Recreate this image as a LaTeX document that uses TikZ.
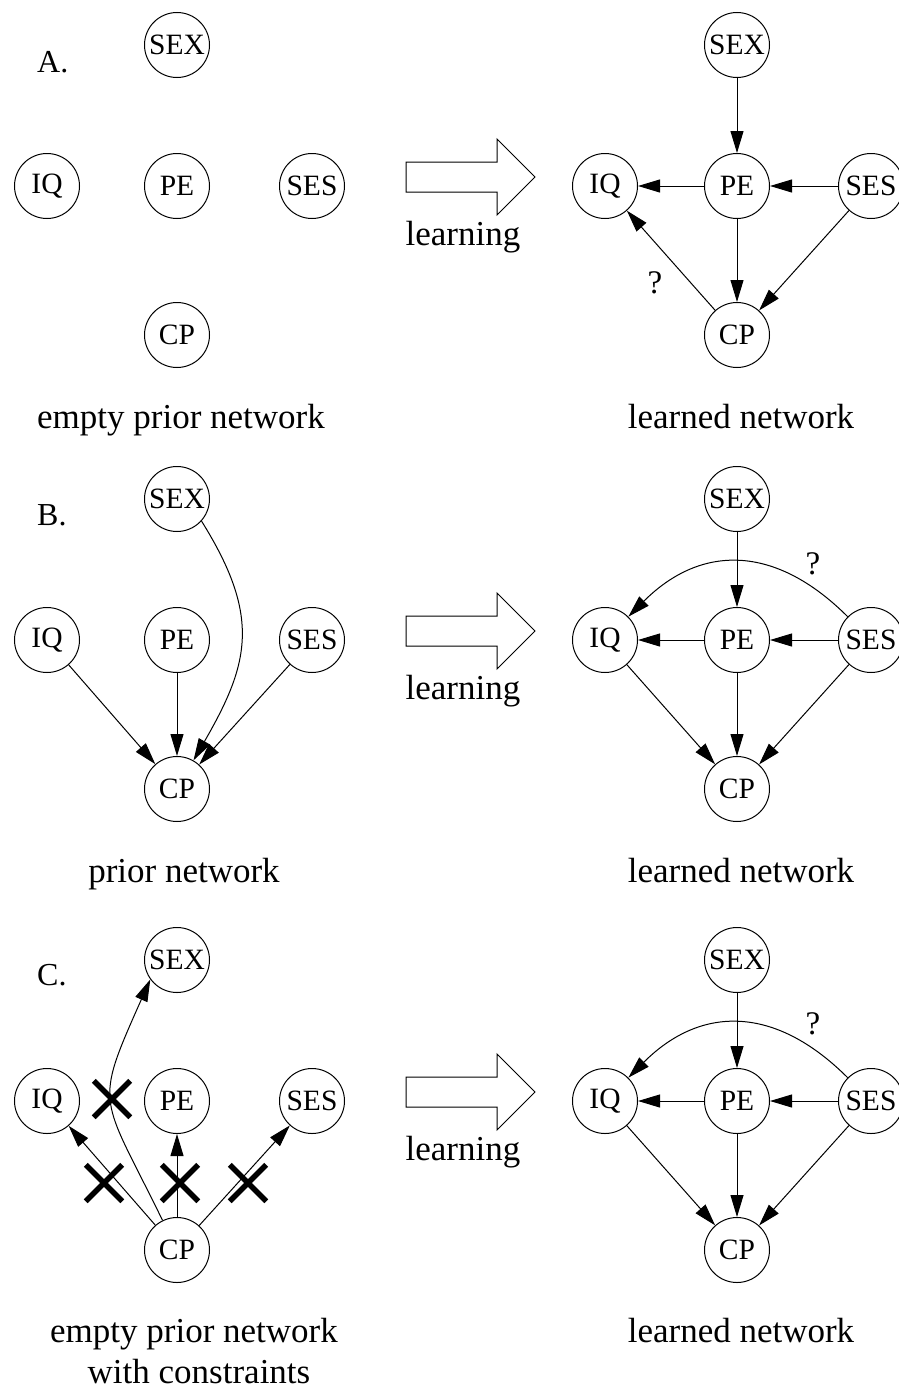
\documentclass[tikz,border=0pt]{standalone}
\usepackage{fontspec}
\setmainfont{Liberation Serif}
\usetikzlibrary{arrows.meta,shapes.misc}
\newcommand{\netnodes}[5]{%
  \node[var] (#1SEX) at (#3,{-45-#5}) {SEX};
  \node[var] (#1IQ)  at (#2,{-186-#5}) {IQ};
  \node[var] (#1PE)  at (#3,{-186-#5}) {PE};
  \node[var] (#1SES) at (#4,{-186-#5}) {SES};
  \node[var] (#1CP)  at (#3,{-335-#5}) {CP};
}
\begin{document}
\begin{tikzpicture}[x=1pt,y=1pt,
  var/.style={circle,draw,line width=1pt,minimum size=65pt,inner sep=0pt,font=\fontsize{29.5}{34}\selectfont},
  lbl/.style={font=\fontsize{35}{40}\selectfont,inner sep=0pt,anchor=base},
  qmark/.style={font=\fontsize{33}{38}\selectfont,inner sep=0pt},
  edge/.style={-{Triangle[length=22pt,width=13pt]},line width=1pt},
  xmark/.style={cross out,draw,line width=5.5pt,minimum size=31pt,inner sep=0pt},
  bigarrow/.style={draw,line width=1pt,fill=white}]
\useasboundingbox (0,0) rectangle (899,-1389);

% ---------- nodes ----------
\netnodes{Al}{47}{177}{312}{0}
\netnodes{Ar}{605}{737}{871}{0}
\netnodes{Bl}{47}{177}{312}{454}
\netnodes{Br}{605}{737}{871}{454}
\netnodes{Cl}{47}{177}{312}{915}
\netnodes{Cr}{605}{737}{871}{915}

% ---------- panel labels ----------
\node[lbl,anchor=base west,font=\fontsize{32}{36}\selectfont] (labA) at (37,-72) {A.};
\node[lbl,anchor=base west,font=\fontsize{32}{36}\selectfont] (labB) at (37,-525) {B.};
\node[lbl,anchor=base west,font=\fontsize{32}{36}\selectfont] (labC) at (37,-985) {C.};

% ---------- captions ----------
\node[lbl] (capAl) at (181,-428) {empty prior network};
\node[lbl] (capAr) at (741,-428) {learned network};
\node[lbl] (capBl) at (184,-882) {prior network};
\node[lbl] (capBr) at (741,-882) {learned network};
\node[lbl] (capCl) at (194,-1342) {empty prior network};
\node[lbl] (capCl2) at (199,-1383) {with constraints};
\node[lbl] (capCr) at (741,-1342) {learned network};

% ---------- learning arrows ----------
\foreach \d/\n in {0/A,454/B,915/C}{
  \draw[bigarrow] (406,-162-\d) -- (497,-162-\d) -- (497,-139-\d) -- (535,-177-\d)
     -- (497,-215-\d) -- (497,-192-\d) -- (406,-192-\d) -- cycle;
  \node[lbl] (learn\n) at (463,-245-\d) {learning};
}

% ---------- A right ----------
\draw[edge] (ArSEX) -- (ArPE);
\draw[edge] (ArPE) -- (ArIQ);
\draw[edge] (ArSES) -- (ArPE);
\draw[edge] (ArPE) -- (ArCP);
\draw[edge] (ArSES) -- (ArCP);
\draw[edge] (ArCP) -- (ArIQ);
\node[qmark] (qA) at (655,-283) {?};

% ---------- B left ----------
\draw[edge] (BlIQ) -- (BlCP);
\draw[edge] (BlPE) -- (BlCP);
\draw[edge] (BlSES) -- (BlCP);
\draw[edge] (BlSEX.-42) to[out=-58,in=60,looseness=1.2] (BlCP.60);

% ---------- B right and C right ----------
\foreach \p/\d in {Br/0,Cr/460}{
  \draw[edge] (\p SEX) -- (\p PE);
  \draw[edge] (\p PE) -- (\p IQ);
  \draw[edge] (\p SES) -- (\p PE);
  \draw[edge] (\p PE) -- (\p CP);
  \draw[edge] (\p SES) -- (\p CP);
  \draw[edge] (\p IQ) -- (\p CP);
  \draw[edge] (\p SES.135) to[out=135,in=45,looseness=1.2] (\p IQ.45);
  \node[qmark] (q\p) at (813,-564-\d) {?};
}

% ---------- C left ----------
\draw[edge] (ClCP) -- (ClIQ);
\draw[edge] (ClCP) -- (ClPE);
\draw[edge] (ClCP) -- (ClSES);
\draw[edge] (ClCP.116) to[out=116,in=246,looseness=1.5] (ClSEX.216);
\node[xmark] (x1) at (112,-1099) {};
\node[xmark] (x2) at (104,-1183) {};
\node[xmark] (x3) at (180,-1183) {};
\node[xmark] (x4) at (248,-1183) {};
\end{tikzpicture}
\end{document}
